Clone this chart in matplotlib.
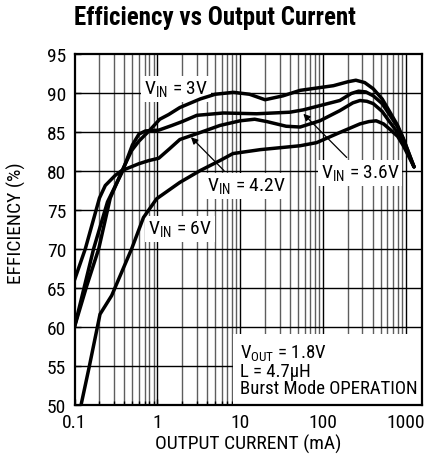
import matplotlib
matplotlib.use("Agg")
import matplotlib.pyplot as plt
from matplotlib import font_manager as fm
import numpy as np

# pick a condensed sans face if one is installed, otherwise Roboto
fonts = fm.fontManager.ttflist
names = {f.name for f in fonts}
family, stretch = 'Roboto', 'normal'
for cand in ['Liberation Sans Narrow', 'Roboto Condensed', 'Open Sans Condensed', 'Noto Sans Condensed']:
    if cand in names:
        family = cand
        break
else:
    if any(f.name == 'DejaVu Sans' and f.stretch == 'condensed' for f in fonts):
        family, stretch = 'DejaVu Sans', 'condensed'

plt.rcParams['font.family'] = [family, 'DejaVu Sans']
plt.rcParams['font.stretch'] = stretch
plt.rcParams['mathtext.fontset'] = 'custom'
plt.rcParams['mathtext.rm'] = family + (':stretch=condensed' if stretch == 'condensed' else '')

# data (output current in mA, efficiency in %)
cur_3v = [0.1, 0.14, 0.196, 0.27, 0.375, 0.49, 0.6, 0.81, 1.07, 1.37, 1.87, 3.3, 5, 8.3,
          13, 20, 33, 53, 134, 200, 250, 320, 406, 520, 646, 800, 937, 1260]
eff_3v = [60, 65.2, 70, 76.5, 80, 82.6, 83.8, 85.2, 86.6, 87.2, 88.1, 89.2, 89.8, 90.05,
          89.8, 89.1, 89.6, 90.3, 90.9, 91.4, 91.6, 91.3, 90.5, 89.2, 87.5, 85.8, 84.1, 80.5]

cur_36v = [0.1, 0.17, 0.25, 0.375, 0.5, 0.6, 0.72, 1.04, 1.5, 2.0, 3.0, 6.3, 15.8, 40,
           58, 160, 220, 270, 330, 406, 520, 646, 800, 937, 1260]
eff_36v = [60, 70, 76, 79.8, 83.3, 84.7, 85.1, 85.2, 85.8, 86.3, 87.1, 87.4, 87.3, 87.5,
           87.8, 89.0, 89.9, 90.2, 90.1, 89.6, 88.6, 87.1, 85.6, 84.1, 80.5]

cur_42v = [0.1, 0.135, 0.2, 0.235, 0.31, 0.37, 0.6, 0.79, 1.04, 1.4, 1.87, 3.3, 5.7, 10,
           15, 21, 36, 53, 92, 160, 230, 280, 340, 406, 520, 646, 800, 937, 1260]
eff_42v = [66, 70, 76.5, 78.1, 79.4, 80, 80.9, 81.3, 81.6, 82.8, 84.0, 84.9, 85.8, 86.4,
           86.6, 86.3, 85.7, 85.6, 86.4, 87.7, 88.7, 89.0, 88.9, 88.6, 87.6, 86.2, 84.9, 83.6, 80.5]

cur_6v = [0.12, 0.15, 0.203, 0.281, 0.49, 0.68, 0.98, 1.87, 3.27, 5.7, 8.2, 17.5, 53, 84,
          160, 280, 360, 440, 540, 646, 800, 937, 1260]
eff_6v = [50, 54.8, 61.6, 64, 70, 74, 76.4, 78.5, 80, 81.3, 82.2, 82.7, 83.2, 83.6,
          84.9, 86, 86.3, 86.4, 86.0, 85.3, 84.4, 83.2, 80.5]

x_ticks = [0.1, 1, 10, 100, 1000]
x_labels = ['0.1', '1', '10', '100', '1000']
y_ticks = list(range(50, 100, 5))

fig = plt.figure(figsize=(4.26, 4.64), dpi=100)
ax = fig.add_axes([0.175, 0.1256, 0.8156, 0.7565])
ax.set_xscale('log')
ax.set_xlim(0.1, 1574)
ax.set_ylim(50, 95)

# grid drawn by hand so the text boxes can sit on top of it
for dec in [0.1, 1, 10, 100]:
    for m in range(2, 10):
        ax.axvline(dec * m, color='#5e5e5e', lw=1.0, zorder=1)
for v in [1, 10, 100, 1000]:
    ax.axvline(v, color='black', lw=1.0, zorder=1)
for h in y_ticks[1:-1]:
    ax.axhline(h, color='black', lw=1.0, zorder=1)

for c, e in [(cur_3v, eff_3v), (cur_36v, eff_36v), (cur_42v, eff_42v), (cur_6v, eff_6v)]:
    ax.plot(c, e, color='black', lw=2.5, solid_joinstyle='round', solid_capstyle='round', zorder=3)

box = dict(facecolor='white', edgecolor='none', pad=2)
fs = 14
ax.text(1.68, 90.5, r'V$_{\rm IN}$ = 3V', fontsize=fs, ha='center', va='center', bbox=box, zorder=2)
ax.text(1.88, 72.5, r'V$_{\rm IN}$ = 6V', fontsize=fs, ha='center', va='center', bbox=box, zorder=2)
ax.text(11.8, 78.0, r'V$_{\rm IN}$ = 4.2V', fontsize=fs, ha='center', va='center', bbox=box, zorder=2)
ax.text(281, 79.7, r'V$_{\rm IN}$ = 3.6V', fontsize=fs, ha='center', va='center', bbox=box, zorder=2)

arrow = dict(arrowstyle='-|>', color='black', lw=0.9, mutation_scale=10, shrinkA=0, shrinkB=0)
ax.annotate('', xy=(2.55, 84.3), xytext=(6.4, 80.0), arrowprops=arrow, zorder=4)
ax.annotate('', xy=(58, 87.3), xytext=(194, 81.7), arrowprops=arrow, zorder=4)

ax.text(10, 58.0, 'V$_{\\rm OUT}$ = 1.8V\nL = 4.7µH\nBurst Mode OPERATION', fontsize=13.5,
        ha='left', va='top', linespacing=0.95,
        bbox=dict(facecolor='white', edgecolor='none', pad=5), zorder=2)

ax.set_xticks(x_ticks)
ax.set_xticklabels(x_labels)
ax.set_yticks(y_ticks)
ax.xaxis.set_minor_locator(matplotlib.ticker.LogLocator(base=10, subs=np.arange(2, 10)))
ax.xaxis.set_minor_formatter(matplotlib.ticker.NullFormatter())
ax.tick_params(axis='both', which='major', direction='in', length=4, width=1, labelsize=fs, pad=6)
ax.tick_params(axis='x', which='minor', direction='in', length=3, width=1)
for s in ax.spines.values():
    s.set_linewidth(1.6)

ax.set_xlabel('OUTPUT CURRENT (mA)', fontsize=fs, labelpad=2)
ax.set_ylabel('EFFICIENCY (%)', fontsize=fs, labelpad=13)
ax.yaxis.set_label_coords(-0.14, 0.52)

fig.text(0.505, 0.961, 'Efficiency vs Output Current', fontsize=18, fontweight='bold',
         ha='center', va='center')

fig.savefig('out.png', dpi=100)
